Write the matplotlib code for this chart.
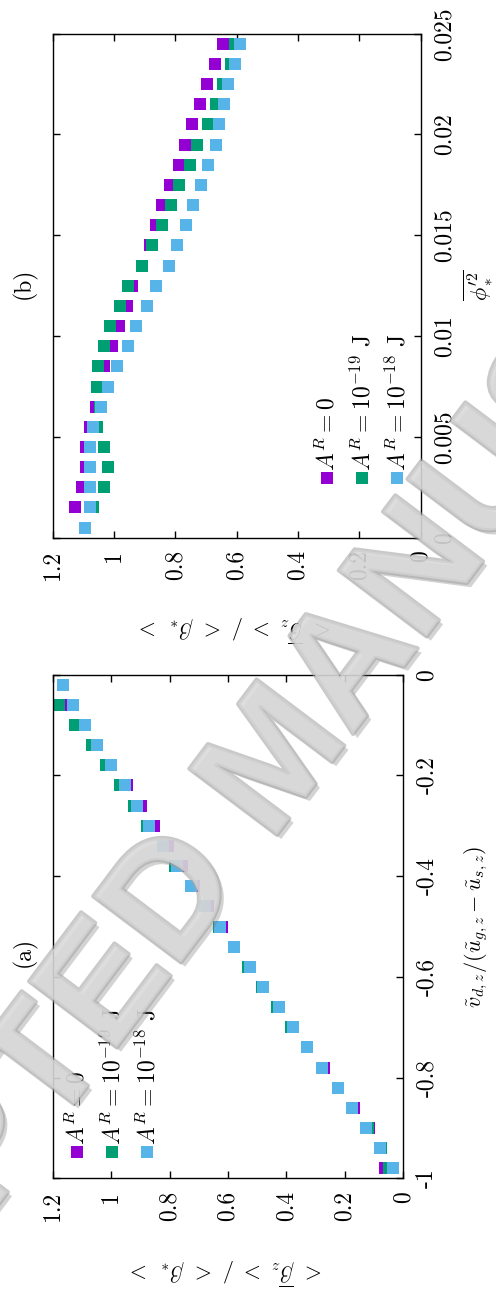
import matplotlib
matplotlib.use('Agg')
import matplotlib.pyplot as plt
import matplotlib.patheffects as pe

plt.rcParams['font.family'] = 'serif'
plt.rcParams['font.serif'] = ['cmr10']
plt.rcParams['mathtext.fontset'] = 'cm'
plt.rcParams['axes.unicode_minus'] = False
plt.rcParams['font.size'] = 16

# colours of the three series
colors = ['#9400d3', '#009e73', '#56b4e9']
legend_labels = [r'$A^R = 0$', r'$A^R = 10^{-19}$ J', r'$A^R = 10^{-18}$ J']

# panel (a): v_dz / (u_gz - u_sz)  vs  <beta_z>/<beta_*>
vel_a = [-0.02, -0.06, -0.10, -0.14, -0.18, -0.22, -0.26, -0.30, -0.34, -0.38,
         -0.42, -0.46, -0.50, -0.54, -0.58, -0.62, -0.66, -0.70, -0.74, -0.78,
         -0.82, -0.86, -0.90, -0.94, -0.98]
beta_a_0 = [1.163, 1.143, 1.110, 1.055, 1.005, 0.944, 0.896, 0.852, 0.804, 0.759,
            0.715, 0.667, 0.622, 0.581, 0.528, 0.479, 0.427, 0.376, 0.328, 0.273,
            0.222, 0.170, 0.118, 0.081, 0.061]
beta_a_19 = [1.163, 1.180, 1.124, 1.064, 1.016, 0.968, 0.920, 0.876, 0.824, 0.780,
             0.728, 0.677, 0.630, 0.578, 0.530, 0.482, 0.431, 0.383, 0.331, 0.277,
             0.225, 0.177, 0.122, 0.077, 0.048]
beta_a_18 = [1.163, 1.129, 1.088, 1.047, 0.999, 0.954, 0.913, 0.869, 0.821, 0.776,
             0.725, 0.677, 0.629, 0.581, 0.526, 0.479, 0.427, 0.376, 0.328, 0.277,
             0.225, 0.177, 0.129, 0.081, 0.034]

# panel (b): mean phi'^2  vs  <beta_z>/<beta_*>
phi_b = [0.0245, 0.0235, 0.0225, 0.0215, 0.0205, 0.0195, 0.0185, 0.0175, 0.0165,
         0.0155, 0.0145, 0.0135, 0.0125, 0.0115, 0.0105, 0.0095, 0.0085, 0.0075,
         0.0065, 0.0055, 0.0045, 0.0035, 0.0025, 0.0015, 0.0005]
beta_b_0 = [0.643, 0.672, 0.698, 0.718, 0.747, 0.770, 0.787, 0.816, 0.845, 0.862,
            0.884, 0.910, 0.940, 0.959, 0.985, 1.008, 1.031, 1.057, 1.060, 1.077,
            1.090, 1.090, 1.103, 1.126, 1.096]
beta_b_19 = [0.604, 0.620, 0.643, 0.666, 0.695, 0.728, 0.751, 0.787, 0.813, 0.842,
             0.875, 0.910, 0.953, 0.982, 1.012, 1.031, 1.051, 1.054, 1.047, 1.054,
             1.031, 1.021, 1.031, 1.067, 1.096]
beta_b_18 = [0.588, 0.607, 0.627, 0.640, 0.656, 0.669, 0.695, 0.715, 0.741, 0.764,
             0.793, 0.822, 0.862, 0.891, 0.927, 0.953, 0.989, 1.018, 1.041, 1.067,
             1.077, 1.077, 1.077, 1.077, 1.096]

beta_ticks = [0, 0.2, 0.4, 0.6, 0.8, 1.0, 1.2]
beta_ticklabels = ['0', '0.2', '0.4', '0.6', '0.8', '1', '1.2']
vel_ticks = [-1, -0.8, -0.6, -0.4, -0.2, 0]
vel_ticklabels = ['-1', '-0.8', '-0.6', '-0.4', '-0.2', '0']
phi_ticks = [0, 0.005, 0.01, 0.015, 0.02, 0.025]
phi_ticklabels = ['0', '0.005', '0.01', '0.015', '0.02', '0.025']

beta_label = r'$<\ \overline{\beta}_z\ >\ /\ <\ \beta_*\ >$'

fig = plt.figure(figsize=(4.96, 12.96), dpi=100)
ax_a = fig.add_axes([0.1062, 0.0908, 0.7069, 0.3886])
ax_b = fig.add_axes([0.1062, 0.5851, 0.7419, 0.3889])


def setup(ax, yticks, yticklabels, ylim, ylabel, ylab_x, xlab_y):
    # the page is turned: horizontal axis carries beta, vertical axis the x quantity
    ax.set_xlim(1.2, 0)
    ax.set_ylim(*ylim)
    ax.set_xticks(beta_ticks)
    ax.set_xticklabels(beta_ticklabels, rotation=90)
    ax.set_yticks(yticks)
    ax.set_yticklabels(yticklabels, rotation=90, va='center')
    ax.tick_params(direction='in', length=5, width=1, pad=9, labelsize=17,
                   top=True, bottom=True, left=True, right=True,
                   labelleft=False, labelright=True)
    for s in ax.spines.values():
        s.set_linewidth(1.0)
    ax.set_xlabel(beta_label, rotation=180)
    ax.xaxis.set_label_coords(0.5, xlab_y)
    ax.yaxis.set_label_position('right')
    ax.set_ylabel(ylabel, rotation=90)
    ax.yaxis.set_label_coords(ylab_x, 0.5)


def legend(ax, xs, y_mark, y_text):
    for x, c, lab in zip(xs, colors, legend_labels):
        ax.plot([x], [y_mark], 's', color=c, ms=8, mew=0, transform=ax.transAxes,
                clip_on=False)
        ax.text(x, y_text, lab, rotation=90, ha='center', va='bottom',
                fontsize=17, transform=ax.transAxes)


for vals, c in zip([beta_a_0, beta_a_19, beta_a_18], colors):
    ax_a.plot(vals, vel_a, 's', color=c, ms=8, mew=0, clip_on=False)
setup(ax_a, vel_ticks, vel_ticklabels, (-1, 0),
      r'$\tilde{v}_{d,z}/(\tilde{u}_{g,z}-\tilde{u}_{s,z})$', 1.168, -0.154)
legend(ax_a, [0.0707, 0.1706, 0.2704], 0.0532, 0.0661)

for vals, c in zip([beta_b_0, beta_b_19, beta_b_18], colors):
    ax_b.plot(vals, phi_b, 's', color=c, ms=8, mew=0, clip_on=False)
setup(ax_b, phi_ticks, phi_ticklabels, (0, 0.025),
      r'$\overline{\phi_*^{\prime 2}}$', 1.111, -0.149)
legend(ax_b, [0.7467, 0.8418, 0.937], 0.1192, 0.132)

fig.text(0.0484, 0.2654, '(a)', rotation=90, ha='center', va='center', fontsize=17)
fig.text(0.0484, 0.7816, '(b)', rotation=90, ha='center', va='center', fontsize=17)

# watermark across the page
wm = fig.text(0.5645, 0.412, 'ACCEPTED MANUSCRIPT', rotation=53, ha='center',
              va='center', fontsize=115, family='Liberation Sans', weight='bold',
              color='#d9d9d9', alpha=0.7, zorder=10)
wm.set_path_effects([pe.SimplePatchShadow(offset=(3, -3), shadow_rgbFace='#707070',
                                          alpha=0.3),
                     pe.Stroke(linewidth=3, foreground='#a6a6a6', alpha=0.6),
                     pe.Normal()])

fig.savefig('out.png', dpi=100)
